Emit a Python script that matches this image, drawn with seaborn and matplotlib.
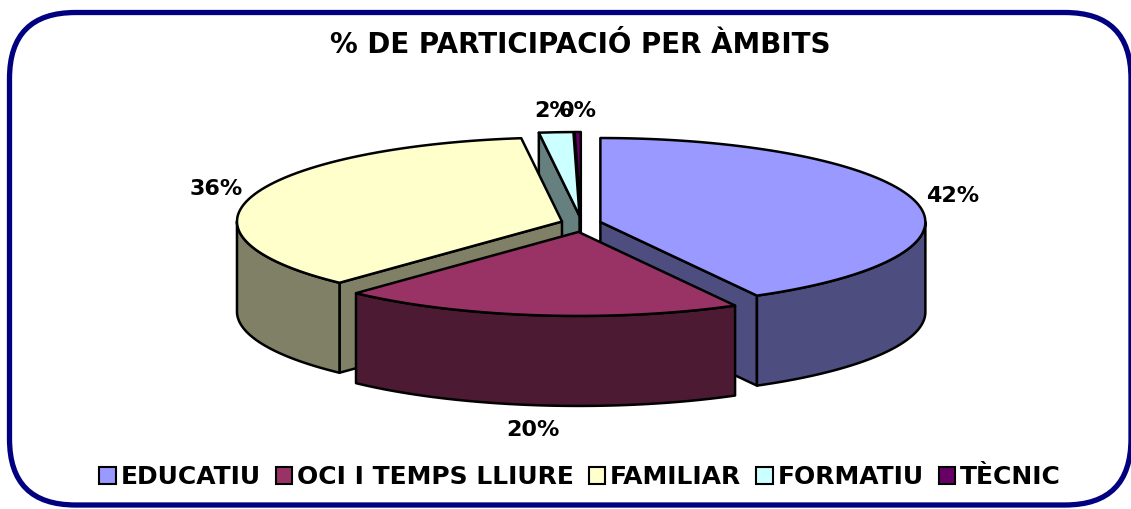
"""
3D exploded pie: % de participació per àmbits.
"""
import matplotlib
matplotlib.use("Agg")

import matplotlib.pyplot as plt
import matplotlib.colors as mcolors
from matplotlib.patches import Polygon, FancyBboxPatch, Patch
import numpy as np
import seaborn as sns

# ── Data ──────────────────────────────────────────────────────────────────────
TITLE = "% DE PARTICIPACIÓ PER ÀMBITS"
CATEGORIES = ["EDUCATIU", "OCI I TEMPS LLIURE", "FAMILIAR", "FORMATIU", "TÈCNIC"]
VALUES = [42.0, 20.0, 36.0, 1.7, 0.3]
COLORS = ["#9999FF", "#993366", "#FFFFCC", "#CCFFFF", "#660066"]

# ── Style ─────────────────────────────────────────────────────────────────────
sns.set_theme(style="white")
plt.rcParams["font.family"] = ["DejaVu Sans"]
plt.rcParams["text.color"] = "black"

W, H = 1131, 509
fig = plt.figure(figsize=(W / 100, H / 100), dpi=100)
ax = fig.add_axes([0, 0, 1, 1])
ax.set_xlim(0, W)
ax.set_ylim(H, 0)
ax.axis("off")

# pie geometry in pixels
CX, CY = 581, 224
A, B = 325, 84
DEPTH = 90
EXPLODE = 20
LW = 1.8


def ell(vx, vy, t, dz=0.0):
    return np.column_stack([vx + A * np.sin(t), vy - B * np.cos(t) + dz])


def darker(c):
    return tuple(v * 0.5 for v in mcolors.to_rgb(c))


def poly(pts, fc):
    ax.add_patch(Polygon(pts, closed=True, facecolor=fc, edgecolor="black",
                         lw=LW, joinstyle="round"))


fracs = np.array(VALUES) / sum(VALUES)
ends = np.cumsum(fracs) * 2 * np.pi
starts = ends - fracs * 2 * np.pi
mids = (starts + ends) / 2

# back slices first
for i in np.argsort(-np.cos(mids)):
    s, e, m = starts[i], ends[i], mids[i]
    vx = CX + EXPLODE * np.sin(m)
    vy = CY - EXPLODE * 0.4 * np.cos(m)
    side = darker(COLORS[i])
    v = np.array([[vx, vy]])

    # radial walls facing the viewer
    for t, visible in ((s, np.sin(s) < -1e-9), (e, np.sin(e) > 1e-9)):
        if visible:
            p = ell(vx, vy, np.array([t]))
            poly(np.vstack([v, p, p + [0, DEPTH], v + [0, DEPTH]]), side)

    # curved front wall
    lo, hi = max(s, np.pi / 2), min(e, 3 * np.pi / 2)
    if lo < hi:
        t = np.linspace(lo, hi, 80)
        poly(np.vstack([ell(vx, vy, t), ell(vx, vy, t[::-1], DEPTH)]), side)

    # top face
    t = np.linspace(s, e, max(3, int(200 * fracs[i])))
    poly(np.vstack([v, ell(vx, vy, t)]), COLORS[i])

    # percentage label
    lx = vx + 1.12 * A * np.sin(m)
    ly = vy - 1.25 * B * np.cos(m) + 1.05 * DEPTH * max(0.0, -np.cos(m))
    ax.text(lx, ly, f"{fracs[i] * 100:.0f}%", ha="center", va="center",
            fontsize=16, fontweight="bold", color="black")

ax.text(580, 45, TITLE, ha="center", va="center", fontsize=20,
        fontweight="bold", color="black")

# rounded chart border
ax.add_patch(FancyBboxPatch((9.5, 12.5), 1131 - 9.5, 505 - 12.5,
                            boxstyle="round,pad=0,rounding_size=66",
                            facecolor="none", edgecolor="#000080", lw=3.8,
                            clip_on=False))

handles = [Patch(facecolor=c, edgecolor="black", lw=1.5) for c in COLORS]
leg = fig.legend(handles, CATEGORIES, loc="center",
                 bbox_to_anchor=(580 / W, 1 - 477 / H),
                 ncol=5, frameon=False, prop={"weight": "bold", "size": 18},
                 handlelength=0.65, handleheight=0.65, handletextpad=0.2,
                 columnspacing=0.6, borderaxespad=0)
for txt in leg.get_texts():
    txt.set_color("black")

fig.savefig("out.png", dpi=100)
